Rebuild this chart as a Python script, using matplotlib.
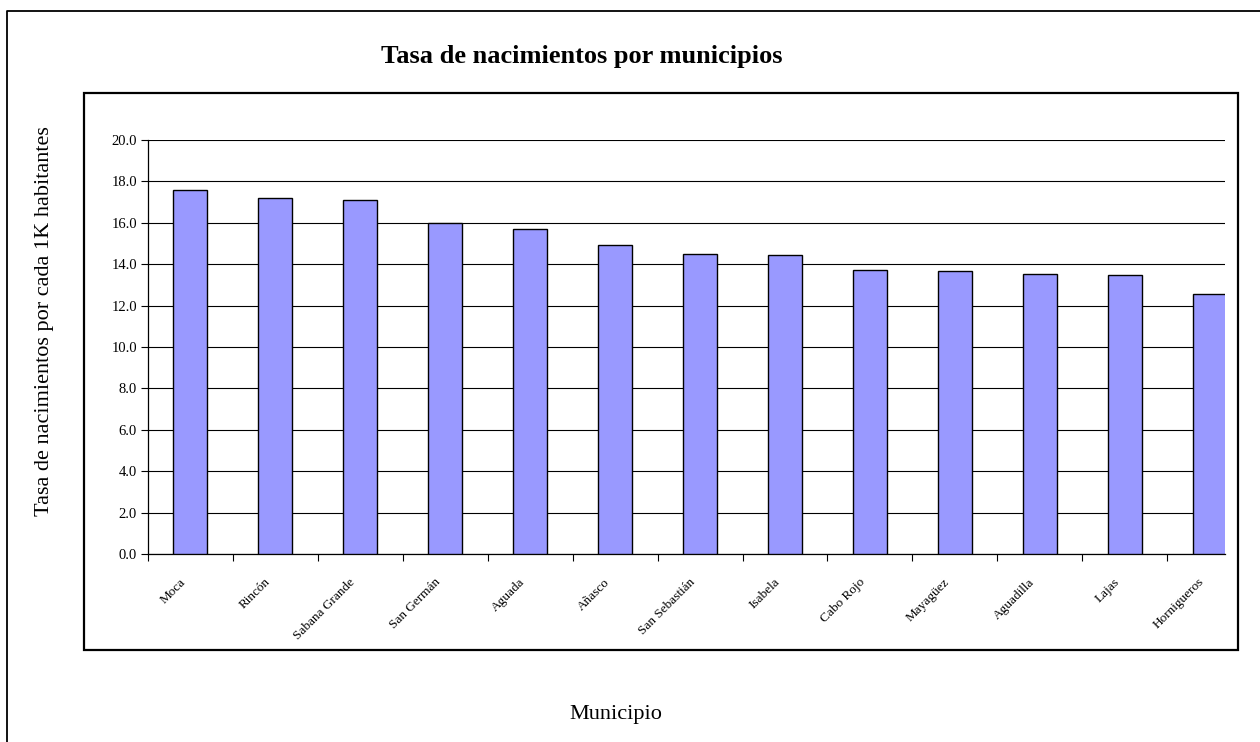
import matplotlib
matplotlib.use("Agg")
import matplotlib.pyplot as plt
from matplotlib.patches import Rectangle
from matplotlib.lines import Line2D
from matplotlib.transforms import ScaledTranslation
import numpy as np

# Tasa de nacimientos por cada 1,000 habitantes
municipios = ["Moca", "Rincón", "Sabana Grande", "San Germán", "Aguada", "Añasco",
              "San Sebastián", "Isabela", "Cabo Rojo", "Mayagüez", "Aguadilla",
              "Lajas", "Hornigueros"]
tasas = [17.58, 17.21, 17.08, 15.97, 15.68, 14.93, 14.49, 14.44, 13.72, 13.69,
         13.55, 13.48, 12.57]
y_ticks = [0.0, 2.0, 4.0, 6.0, 8.0, 10.0, 12.0, 14.0, 16.0, 18.0, 20.0]

plt.rcParams["font.family"] = ["Liberation Serif", "DejaVu Serif"]

W, H = 1260, 742
fig = plt.figure(figsize=(W / 100, H / 100), dpi=100)

def fx(px):
    return px / W

def fy(py):
    return 1 - py / H

# Outer chart border (left and top edges visible)
fig.add_artist(Line2D([fx(7), fx(7), fx(1262)], [fy(745), fy(11), fy(11)],
                      color="black", lw=1.3, transform=fig.transFigure))
# Plot-area frame
fig.add_artist(Rectangle((fx(84), fy(650)), fx(1238) - fx(84), fy(93) - fy(650),
                         fill=False, edgecolor="black", lw=1.6,
                         transform=fig.transFigure))

ax = fig.add_axes([fx(148), fy(554), fx(1225) - fx(148), fy(140) - fy(554)])
x = np.arange(len(municipios))
ax.bar(x, tasas, width=0.4, color="#9999FF", edgecolor="black", linewidth=1.0,
       zorder=3)

ax.set_ylim(0, 20)
ax.set_xlim(-0.5, 12.18)
ax.set_yticks(y_ticks)
ax.set_yticklabels([f"{v:.1f}" for v in y_ticks], fontsize=10.5)
ax.yaxis.grid(True, color="black", lw=0.8, zorder=0)
ax.set_axisbelow(True)

# Category boundaries carry the tick marks; names sit at the centres
ax.set_xticks(np.arange(len(municipios)) - 0.5)
ax.set_xticklabels([])
ax.set_xticks(x, minor=True)
ax.set_xticklabels(municipios, minor=True, fontsize=9.5, rotation=45,
                   ha="right", va="center", rotation_mode="anchor")
ax.tick_params(axis="x", which="minor", length=0, pad=19)
ax.tick_params(axis="x", which="major", length=5, width=0.8, direction="out")
ax.tick_params(axis="y", length=5, width=0.8, direction="out", pad=3)
shift = ScaledTranslation(-7 / 100, 0, fig.dpi_scale_trans)
for lbl in ax.get_xticklabels(minor=True):
    lbl.set_transform(lbl.get_transform() + shift)

for s in ("top", "right"):
    ax.spines[s].set_visible(False)
for s in ("left", "bottom"):
    ax.spines[s].set_linewidth(0.9)

fig.text(fx(582), fy(56), "Tasa de nacimientos por municipios", fontsize=19,
         fontweight="bold", ha="center", va="center")
fig.text(fx(616), fy(714), "Municipio", fontsize=16, ha="center", va="center")
fig.text(fx(45), fy(321), "Tasa de nacimientos por cada 1K habitantes", fontsize=16,
         rotation=90, ha="center", va="center")

fig.savefig("out.png", dpi=100)
